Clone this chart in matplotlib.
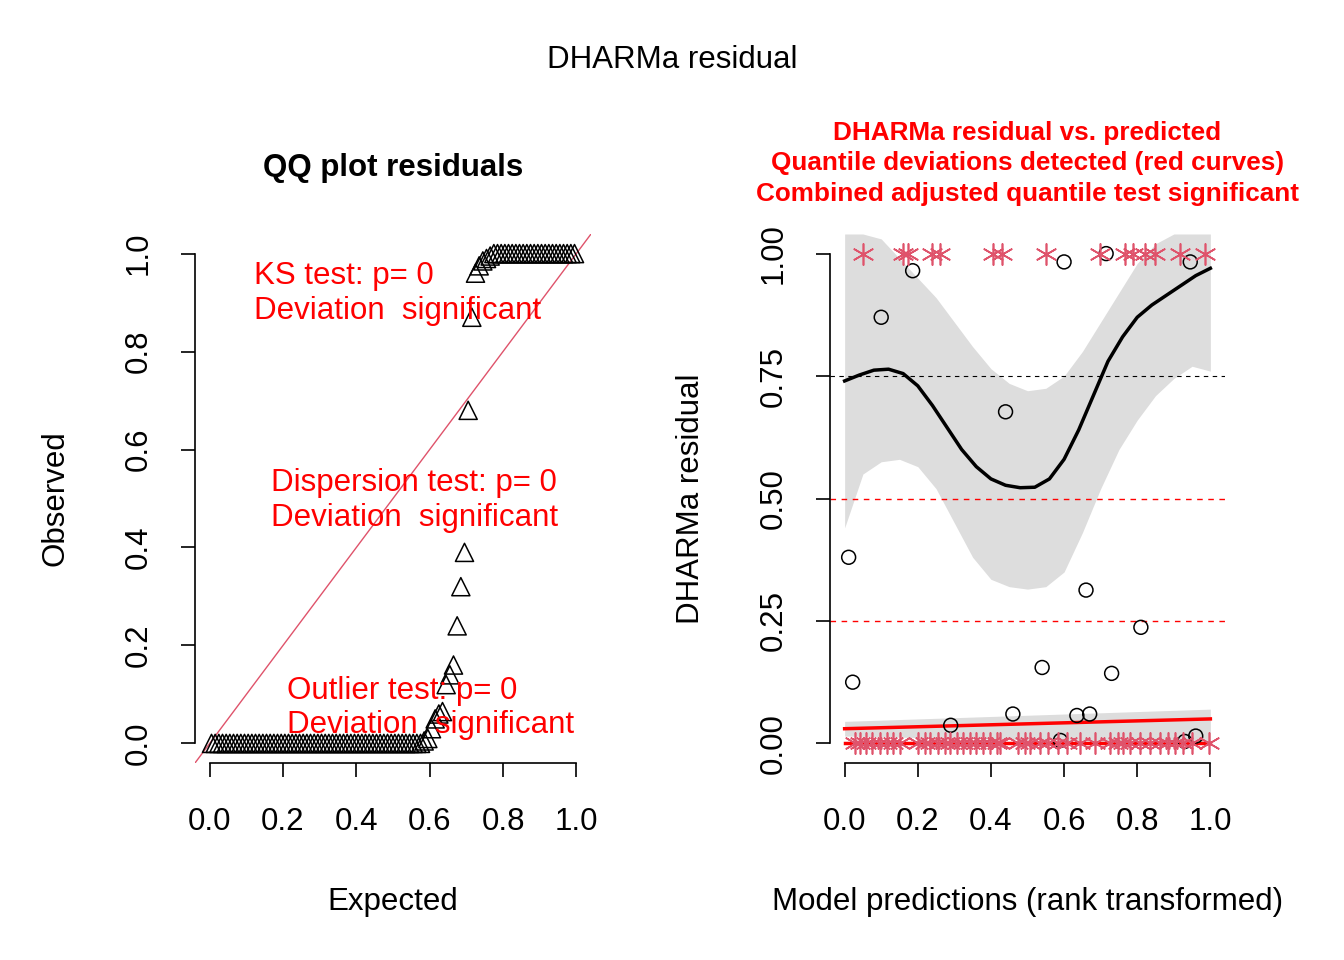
import matplotlib.pyplot as plt
import numpy as np

plt.rcParams['font.family'] = ['Liberation Sans', 'DejaVu Sans']

# QQ panel
qq_observed = ([0.0] * 58 +
               [0.005, 0.01, 0.03, 0.05, 0.06, 0.065, 0.12, 0.14, 0.16, 0.24, 0.32, 0.39, 0.68, 0.87,
                0.96, 0.975, 0.985, 0.99, 0.995] +
               [1.0] * 23)
qq_expected = (np.arange(1, len(qq_observed) + 1) - 0.5) / len(qq_observed)

# residual vs predicted panel
pt_x = [0.011, 0.022, 0.10, 0.186, 0.29, 0.44, 0.54, 0.46, 0.60, 0.59, 0.635, 0.67, 0.66,
        0.715, 0.73, 0.81, 0.945, 0.93, 0.96]
pt_y = [0.38, 0.125, 0.87, 0.965, 0.037, 0.677, 0.155, 0.06, 0.983, 0.006, 0.057, 0.06, 0.313,
        1.0, 0.143, 0.237, 0.983, 0.004, 0.015]
out_top_x = [0.049, 0.159, 0.173, 0.238, 0.260, 0.405, 0.430, 0.551, 0.699, 0.767, 0.789,
             0.822, 0.849, 0.918, 0.986]
out_bot_x = [0.027, 0.041, 0.058, 0.074, 0.096, 0.115, 0.132, 0.151, 0.2, 0.219, 0.233, 0.255,
             0.274, 0.288, 0.307, 0.323, 0.342, 0.359, 0.378, 0.397, 0.416, 0.425, 0.474, 0.493,
             0.507, 0.534, 0.556, 0.584, 0.608, 0.644, 0.685, 0.726, 0.748, 0.762, 0.781, 0.808,
             0.836, 0.863, 0.885, 0.904, 0.926, 0.951, 0.995]

q75_x = [0.0, 0.04, 0.08, 0.12, 0.16, 0.2, 0.24, 0.28, 0.32, 0.36, 0.40, 0.44, 0.48, 0.52,
         0.56, 0.60, 0.64, 0.68, 0.72, 0.76, 0.80, 0.84, 0.88, 0.92, 0.96, 1.0]
q75_y = [0.74, 0.752, 0.762, 0.764, 0.755, 0.73, 0.69, 0.645, 0.60, 0.565, 0.54, 0.527, 0.522,
         0.523, 0.54, 0.58, 0.64, 0.71, 0.78, 0.83, 0.87, 0.895, 0.915, 0.935, 0.955, 0.97]
band_x = [0.0, 0.05, 0.1, 0.15, 0.2, 0.25, 0.3, 0.35, 0.4, 0.45, 0.5, 0.55, 0.6, 0.65, 0.7,
          0.75, 0.8, 0.85, 0.9, 0.95, 1.0]
band_hi = [1.04, 1.04, 1.03, 0.99, 0.95, 0.91, 0.86, 0.81, 0.765, 0.735, 0.72, 0.725, 0.75,
           0.80, 0.86, 0.92, 0.98, 1.02, 1.04, 1.04, 1.04]
band_lo = [0.44, 0.55, 0.575, 0.58, 0.565, 0.52, 0.45, 0.38, 0.335, 0.32, 0.315, 0.32, 0.35,
           0.43, 0.52, 0.60, 0.66, 0.71, 0.745, 0.77, 0.76]
q25_x = [0.0, 1.0]
q25_y = [0.03, 0.05]
q25_lo = [0.015, 0.0]
q25_hi = [0.045, 0.07]
q50_y = [0.0, 0.0]

red = "#DF536B"
W, H = 1344, 960
fs = 22.5
fig = plt.figure(figsize=(13.44, 9.6), dpi=100)


def make_ax(x0, x1):
    ax = fig.add_axes([x0 / W, 1 - 763 / H, (x1 - x0) / W, (763 - 234) / H])
    ax.set_xlim(-0.04, 1.04)
    ax.set_ylim(-0.04, 1.04)
    for s in ["top", "right"]:
        ax.spines[s].set_visible(False)
    ax.spines["left"].set_bounds(0, 1)
    ax.spines["bottom"].set_bounds(0, 1)
    ax.tick_params(labelsize=fs, length=10, width=1.2, pad=22)
    ax.tick_params(axis="y", pad=20)
    for s in ax.spines.values():
        s.set_linewidth(1.2)
    return ax


ax1 = make_ax(195, 591)
ax1.set_xticks([0, 0.2, 0.4, 0.6, 0.8, 1.0])
ax1.set_yticks([0, 0.2, 0.4, 0.6, 0.8, 1.0])
ax1.set_xticklabels(["0.0", "0.2", "0.4", "0.6", "0.8", "1.0"])
ax1.set_yticklabels(["0.0", "0.2", "0.4", "0.6", "0.8", "1.0"], rotation=90, va="center")
ax1.plot([-0.1, 1.1], [-0.1, 1.1], color=red, lw=1)
ax1.scatter(qq_expected, qq_observed, marker="^", s=170, facecolors="none",
            edgecolors="black", linewidths=1.1, zorder=3)
ax1.text(0.12, 0.919, "KS test: p= 0\nDeviation  significant", color="red", fontsize=fs,
         va="center", linespacing=1.2)
ax1.text(0.167, 0.496, "Dispersion test: p= 0\nDeviation  significant", color="red",
         fontsize=fs, va="center", linespacing=1.2)
ax1.text(0.21, 0.072, "Outlier test: p= 0\nDeviation  significant", color="red", fontsize=fs,
         va="center", linespacing=1.2)
ax1.set_title("QQ plot residuals", fontsize=fs, fontweight="bold", pad=42)
ax1.set_xlabel("Expected", fontsize=fs, labelpad=36)
ax1.set_ylabel("Observed", fontsize=fs, labelpad=38)

ax2 = make_ax(830, 1225)
ax2.set_xticks([0, 0.2, 0.4, 0.6, 0.8, 1.0])
ax2.set_xticklabels(["0.0", "0.2", "0.4", "0.6", "0.8", "1.0"])
ax2.set_yticks([0, 0.25, 0.5, 0.75, 1.0])
ax2.set_yticklabels(["0.00", "0.25", "0.50", "0.75", "1.00"], rotation=90, va="center")
ax2.fill_between(band_x, band_lo, band_hi, color="#dddddd", lw=0, zorder=0)
ax2.fill_between(q25_x, q25_lo, q25_hi, color="#dddddd", lw=0, zorder=0)
ax2.axhline(0.75, color="black", ls=(0, (4, 4)), lw=0.8)
ax2.axhline(0.5, color="red", ls=(0, (4, 4)), lw=1)
ax2.axhline(0.25, color="red", ls=(0, (4, 4)), lw=1)
ax2.plot(q75_x, q75_y, color="black", lw=2.5)
ax2.plot(q25_x, q25_y, color="red", lw=2.5)
ax2.plot(q25_x, q50_y, color="red", lw=2.5)
ax2.scatter(pt_x, pt_y, marker="o", s=100, facecolors="none", edgecolors="black",
            linewidths=1.1, zorder=3)
ax2.scatter(out_top_x, [1.0] * len(out_top_x), marker=(6, 2, 0), s=230, color=red,
            linewidths=1.2, zorder=4)
ax2.scatter(out_bot_x, [0.0] * len(out_bot_x), marker=(6, 2, 0), s=230, color=red,
            linewidths=1.2, zorder=4)
ax2.set_title("DHARMa residual vs. predicted\nQuantile deviations detected (red curves)\n"
              "Combined adjusted quantile test significant", color="red", fontsize=18.8,
              fontweight="bold", pad=24, linespacing=1.33)
ax2.set_xlabel("Model predictions (rank transformed)", fontsize=fs, labelpad=36)
ax2.set_ylabel("DHARMa residual", fontsize=fs, labelpad=38)

fig.text(0.5, 1 - 60 / H, "DHARMa residual", ha="center", va="center", fontsize=fs)
fig.savefig("out.png", dpi=100)
